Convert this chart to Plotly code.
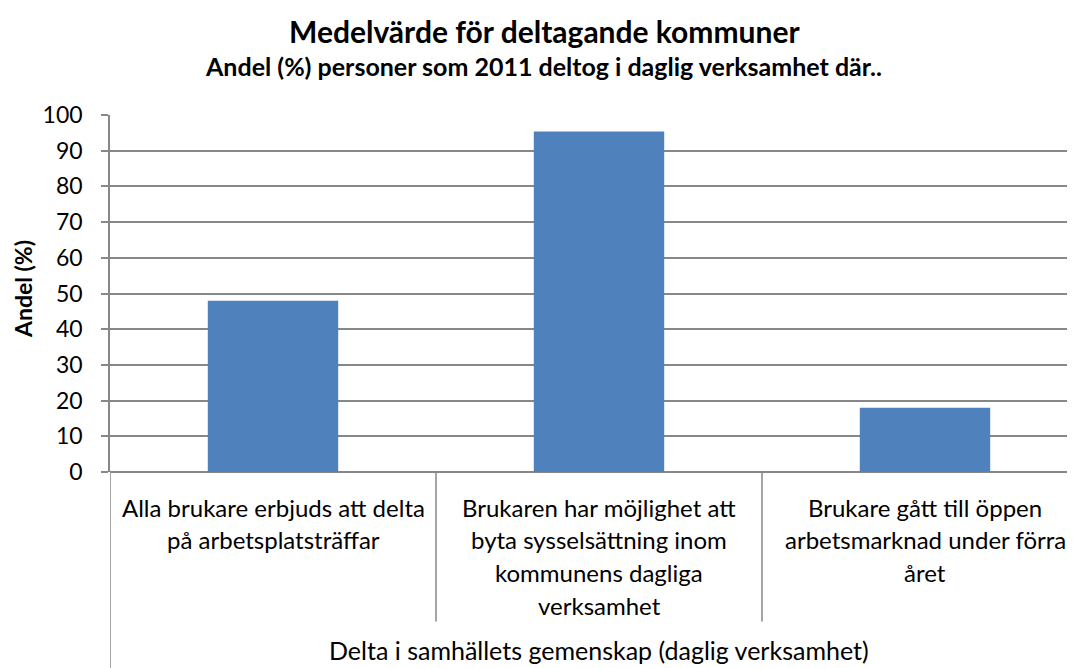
import plotly.graph_objects as go

categories = [
    ["Alla brukare erbjuds att delta", "på arbetsplatsträffar"],
    ["Brukaren har möjlighet att", "byta sysselsättning inom", "kommunens dagliga", "verksamhet"],
    ["Brukare gått till öppen", "arbetsmarknad under förra", "året"],
]
group_label = "Delta i samhällets gemenskap (daglig verksamhet)"
values = [48.0, 95.4, 18.0]
y_ticks = [0, 10, 20, 30, 40, 50, 60, 70, 80, 90, 100]
title = "Medelvärde för deltagande kommuner"
subtitle = "Andel (%) personer som 2011 deltog i daglig verksamhet där.."
y_title = "Andel (%)"

FONT = "Lato"
GRID = "#878787"
OFF = 8  # page body margin
W, H = 1075 - OFF, 668 - OFF
left = 110 - OFF
top = 114.7 - OFF
bottom_px = 472.3 - OFF
plot_h = bottom_px - top
plot_w = W - left

def py(page_y):
    return (bottom_px - (page_y - OFF)) / plot_h

def px(page_x):
    return ((page_x - OFF) - left) / plot_w

xs = list(range(len(values)))
fig = go.Figure(go.Bar(x=xs, y=values, width=0.4, marker=dict(color="#4F81BD", line=dict(width=0))))

annotations = []
line_step = 32.7
for i, lines in enumerate(categories):
    for j, line in enumerate(lines):
        annotations.append(dict(x=i, xref="x", y=py(507.5 + j * line_step), yref="paper",
                                text=line, showarrow=False, xanchor="center", yanchor="middle",
                                font=dict(family=FONT, size=24, color="#000")))
annotations.append(dict(x=(len(values) - 1) / 2, xref="x", y=py(651), yref="paper",
                        text=group_label, showarrow=False, xanchor="center", yanchor="middle",
                        font=dict(family=FONT, size=25, color="#000")))
annotations.append(dict(x=px(544), xref="paper", y=py(31), yref="paper",
                        text="<b>" + title + "</b>", showarrow=False, xanchor="center", yanchor="middle",
                        font=dict(family=FONT, size=30, color="#000")))
annotations.append(dict(x=px(543), xref="paper", y=py(66), yref="paper",
                        text="<b>" + subtitle + "</b>", showarrow=False, xanchor="center", yanchor="middle",
                        font=dict(family=FONT, size=25, color="#000")))
annotations.append(dict(x=px(23), xref="paper", y=py(289), yref="paper", textangle=-90,
                        text="<b>" + y_title + "</b>", showarrow=False, xanchor="center", yanchor="middle",
                        font=dict(family=FONT, size=23, color="#000")))

shapes = []
for b in [0.5, 1.5]:
    shapes.append(dict(type="line", xref="x", yref="paper", x0=b, x1=b, y0=0, y1=py(622),
                       line=dict(color=GRID, width=1.5)))
shapes.append(dict(type="line", xref="x", yref="paper", x0=-0.5, x1=-0.5, y0=0, y1=py(670),
                   line=dict(color=GRID, width=1.5)))

cat_px = 326.0
x_max = -0.5 + plot_w / cat_px

fig.update_layout(
    width=W, height=H,
    margin=dict(l=left, r=0, t=top, b=H - bottom_px, pad=0),
    paper_bgcolor="white", plot_bgcolor="white",
    showlegend=False,
    font=dict(family=FONT, size=23, color="#000"),
    xaxis=dict(range=[-0.5, x_max], showticklabels=False, showgrid=False, zeroline=False,
               showline=False, ticks=""),
    yaxis=dict(range=[0, 100], tickvals=y_ticks, showgrid=True, gridcolor=GRID, gridwidth=1.5,
               zeroline=True, zerolinecolor=GRID, zerolinewidth=1.5,
               showline=True, linecolor=GRID, linewidth=1.5,
               ticks="outside", ticklen=7, tickcolor=GRID, tickwidth=1.5,
               ticklabelstandoff=14,
               tickfont=dict(family=FONT, size=23, color="#000")),
    annotations=annotations,
    shapes=shapes,
)

fig.write_html("out.html")
